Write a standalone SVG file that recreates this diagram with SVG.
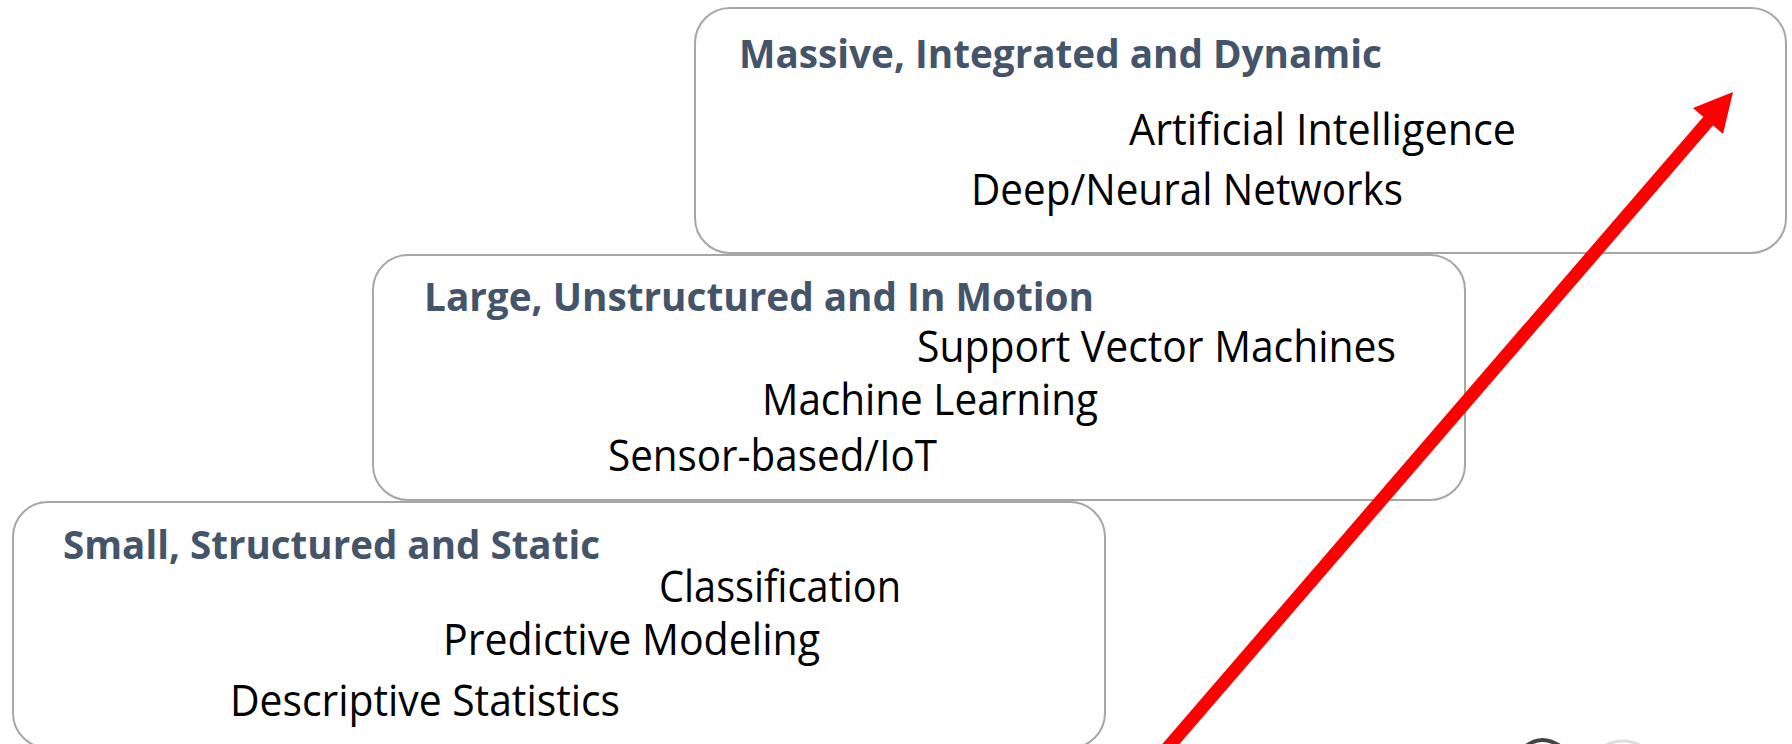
<svg xmlns="http://www.w3.org/2000/svg" width="1792" height="744" viewBox="0 0 1792 744">
  <defs>
    <style>
      .box { fill: #FFFFFF; stroke: #A6A6A6; stroke-width: 2; }
      .title { font-family: "Open Sans", "Liberation Sans", sans-serif; font-weight: bold; font-size: 39px; fill: #44546A; }
      .item { font-family: "Open Sans", "Liberation Sans", sans-serif; font-size: 44px; fill: #000000; }
    </style>
  </defs>
  <rect width="1792" height="744" fill="#FFFFFF"/>

  <g id="node-small">
    <rect class="box" x="13" y="502" width="1092" height="246" rx="35" ry="35"/>
    <text class="title" x="63" y="559" textLength="537" lengthAdjust="spacingAndGlyphs">Small, Structured and Static</text>
    <text class="item" x="659" y="602" textLength="242" lengthAdjust="spacingAndGlyphs">Classification</text>
    <text class="item" x="443" y="655" textLength="377" lengthAdjust="spacingAndGlyphs">Predictive Modeling</text>
    <text class="item" x="230" y="716" textLength="390" lengthAdjust="spacingAndGlyphs">Descriptive Statistics</text>
  </g>

  <g id="node-large">
    <rect class="box" x="373" y="255" width="1092" height="245" rx="35" ry="35"/>
    <text class="title" x="424" y="311" textLength="670" lengthAdjust="spacingAndGlyphs">Large, Unstructured and In Motion</text>
    <text class="item" x="917" y="362" textLength="479" lengthAdjust="spacingAndGlyphs">Support Vector Machines</text>
    <text class="item" x="762" y="415" textLength="336" lengthAdjust="spacingAndGlyphs">Machine Learning</text>
    <text class="item" x="608" y="471" textLength="329" lengthAdjust="spacingAndGlyphs">Sensor-based/IoT</text>
  </g>

  <g id="node-massive">
    <rect class="box" x="695" y="8" width="1091" height="245" rx="35" ry="35"/>
    <text class="title" x="739" y="68" textLength="643" lengthAdjust="spacingAndGlyphs">Massive, Integrated and Dynamic</text>
    <text class="item" x="1129" y="145" textLength="387" lengthAdjust="spacingAndGlyphs">Artificial Intelligence</text>
    <text class="item" x="971" y="205" textLength="432" lengthAdjust="spacingAndGlyphs">Deep/Neural Networks</text>
  </g>

  <g id="connectors">
    <line x1="1164" y1="752" x2="1710" y2="119" stroke="#FF0000" stroke-width="13"/>
    <polygon points="1733,92 1693,108 1723,134" fill="#FF0000"/>
  </g>

  <g id="logo-fragment" fill="none">
    <path d="M1526,746 Q1542,734 1560,746" stroke="#444444" stroke-width="4"/>
    <path d="M1604,746 Q1622,736 1642,746" stroke="#DDDDDD" stroke-width="3"/>
  </g>
</svg>
